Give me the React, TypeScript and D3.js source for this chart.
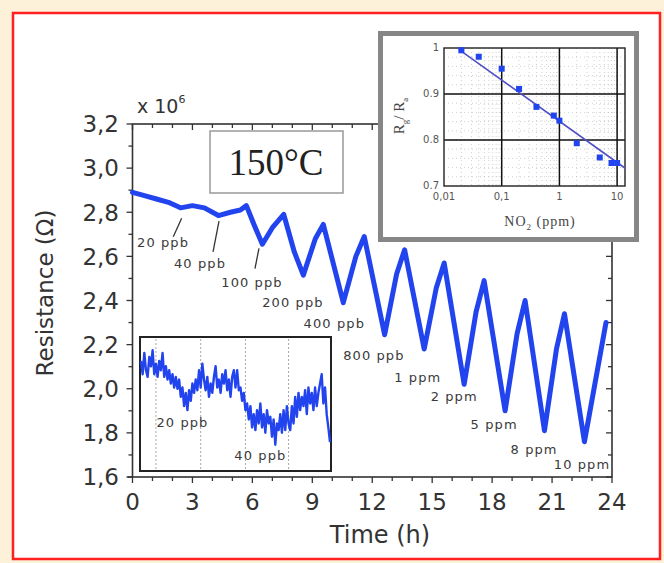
import React, { useRef, useEffect } from "react";
import * as d3 from "d3";

// main trace, vertices (time in h, resistance in 1e6 ohm)
const timeH = [0, 0.6, 1.2, 1.8, 2.4, 3.0, 3.6, 4.3, 4.9, 5.4, 5.7, 6.1, 6.5, 7.0, 7.57, 8.1, 8.55, 9.15, 9.55, 10.55, 11.18, 11.6, 12.62, 13.22, 13.62, 14.6, 15.2, 15.6, 16.6, 17.2, 17.6, 18.65, 19.25, 19.65, 20.62, 21.22, 21.62, 22.62, 23.7];
const resistance = [2.89, 2.875, 2.86, 2.845, 2.82, 2.83, 2.82, 2.785, 2.8, 2.81, 2.83, 2.74, 2.655, 2.73, 2.79, 2.62, 2.515, 2.68, 2.745, 2.39, 2.6, 2.69, 2.245, 2.52, 2.63, 2.18, 2.455, 2.57, 2.02, 2.35, 2.49, 1.9, 2.25, 2.4, 1.81, 2.18, 2.34, 1.76, 2.3];

const xTicks = [0, 3, 6, 9, 12, 15, 18, 21, 24];
const yTicks = [1.6, 1.8, 2.0, 2.2, 2.4, 2.6, 2.8, 3.0, 3.2];

// concentration labels (data coords of the label centre)
const gasLabels = ["20 ppb", "40 ppb", "100 ppb", "200 ppb", "400 ppb", "800 ppb", "1 ppm", "2 ppm", "5 ppm", "8 ppm", "10 ppm"];
const labelT = [1.53, 3.38, 5.98, 8.03, 10.1, 12.08, 14.28, 16.1, 18.1, 20.1, 22.5];
const labelR = [2.661, 2.57, 2.484, 2.389, 2.298, 2.153, 2.053, 1.963, 1.836, 1.727, 1.656];

// leader lines for the first three labels
const leadT0 = [2.04, 4.03, 6.13];
const leadR0 = [2.689, 2.62, 2.545];
const leadT1 = [2.46, 4.33, 6.33];
const leadR1 = [2.773, 2.76, 2.636];

// lower-left inset: zoom of the low-ppb steps (arbitrary units)
const insetSignal = [82, 72, 88, 75, 70, 85, 78, 90, 72, 80, 70, 82, 75, 88, 70, 78, 68, 75, 65, 72, 62, 70, 61, 68, 55, 62, 48, 58, 45, 60, 52, 65, 58, 68, 60, 75, 62, 80, 68, 60, 70, 55, 65, 58, 70, 78, 62, 68, 58, 72, 65, 75, 60, 68, 55, 70, 75, 62, 75, 60, 62, 52, 58, 45, 50, 38, 48, 32, 42, 30, 45, 35, 50, 32, 42, 28, 45, 35, 40, 25, 38, 19, 35, 30, 42, 28, 45, 30, 48, 35, 30, 48, 35, 55, 40, 58, 45, 55, 48, 60, 42, 62, 50, 58, 45, 62, 48, 58, 65, 72, 50, 62, 42, 32, 21];
const insetMarks = [9, 36, 63, 89];
const insetLabels = ["20 ppb", "40 ppb"];
const insetLabelIdx = [25, 72];
const insetLabelVal = [36, 11];

// upper-right inset: response vs NO2 concentration
const no2 = [0.02, 0.04, 0.1, 0.2, 0.4, 0.8, 1, 2, 5, 8, 10];
const ratio = [0.995, 0.981, 0.955, 0.911, 0.872, 0.853, 0.842, 0.793, 0.762, 0.75, 0.75];
const fitNo2 = [0.018, 14];
const fitRatio = [0.997, 0.738];
const insetXTicks = [0.01, 0.1, 1, 10];
const insetXLabels = ["0,01", "0,1", "1", "10"];
const insetYTicks = [0.7, 0.8, 0.9, 1];
const insetYLabels = ["0.7", "0.8", "0.9", "1"];

const W = 664;
const H = 563;
const SANS = "DejaVu Sans, Verdana, sans-serif";
const SERIF = "Liberation Serif, Times New Roman, serif";
const BLUE = "#2244ee";

export default function App() {
  const svgRef = useRef<SVGSVGElement>(null);

  useEffect(() => {
    const svg = d3.select(svgRef.current);
    svg.selectAll("*").remove();

    // page + red frame
    svg.append("rect").attr("width", W).attr("height", H).attr("fill", "#fdf2d9");
    svg.append("rect")
      .attr("x", 13).attr("y", 13).attr("width", 647).attr("height", 546)
      .attr("fill", "#fff").attr("stroke", "#ff2020").attr("stroke-width", 2.5);

    const x = d3.scaleLinear().domain([0, 24]).range([132.5, 612]);
    const y = d3.scaleLinear().domain([1.6, 3.2]).range([477, 124]);

    const g = svg.append("g");

    // ticks
    const minorX = d3.range(0, 25, 1);
    minorX.forEach((t) => {
      const big = t % 3 === 0;
      g.append("line").attr("x1", x(t)).attr("x2", x(t))
        .attr("y1", y(1.6)).attr("y2", y(1.6) + (big ? 6 : 4))
        .attr("stroke", "#333").attr("stroke-width", 1.3);
      g.append("line").attr("x1", x(t)).attr("x2", x(t))
        .attr("y1", y(3.2)).attr("y2", y(3.2) + (big ? 6 : 4))
        .attr("stroke", "#333").attr("stroke-width", 1.3);
    });
    const minorY = d3.range(16, 33, 1).map((d) => d / 10);
    minorY.forEach((r, i) => {
      const big = i % 2 === 0;
      g.append("line").attr("x1", x(0)).attr("x2", x(0) - (big ? 6 : 4))
        .attr("y1", y(r)).attr("y2", y(r))
        .attr("stroke", "#333").attr("stroke-width", 1.3);
      g.append("line").attr("x1", x(24)).attr("x2", x(24) - (big ? 6 : 4))
        .attr("y1", y(r)).attr("y2", y(r))
        .attr("stroke", "#333").attr("stroke-width", 1.3);
    });

    // frame
    g.append("rect")
      .attr("x", x(0)).attr("y", y(3.2))
      .attr("width", x(24) - x(0)).attr("height", y(1.6) - y(3.2))
      .attr("fill", "none").attr("stroke", "#333").attr("stroke-width", 1.6);
    g.append("line").attr("x1", x(0) - 5).attr("x2", x(0))
      .attr("y1", y(1.6)).attr("y2", y(1.6)).attr("stroke", "#333").attr("stroke-width", 1.6);

    // tick labels
    g.selectAll(".xl").data(xTicks).join("text")
      .attr("x", (d) => x(d)).attr("y", 510)
      .attr("text-anchor", "middle").attr("font-family", SANS).attr("font-size", 23)
      .attr("fill", "#333").text((d) => String(d));
    g.selectAll(".yl").data(yTicks).join("text")
      .attr("x", 119).attr("y", (d) => y(d)).attr("dy", "0.36em")
      .attr("text-anchor", "end").attr("font-family", SANS).attr("font-size", 23)
      .attr("fill", "#333").text((d) => d3.format(".1f")(d).replace(".", ","));

    // axis titles
    g.append("text").attr("x", 380).attr("y", 543)
      .attr("text-anchor", "middle").attr("font-family", SANS).attr("font-size", 24)
      .attr("fill", "#333").text("Time (h)");
    g.append("text")
      .attr("transform", "translate(45,293) rotate(-90)")
      .attr("text-anchor", "middle").attr("dominant-baseline", "central")
      .attr("font-family", SANS).attr("font-size", 23).attr("fill", "#333")
      .text("Resistance (Ω)");
    const mult = g.append("text").attr("x", 137).attr("y", 113)
      .attr("font-family", SANS).attr("font-size", 19).attr("fill", "#333");
    mult.append("tspan").text("x 10");
    mult.append("tspan").attr("font-size", 11).attr("dy", -10).text("6");

    // main trace
    const line = d3.line<number>()
      .x((_, i) => x(timeH[i]))
      .y((d) => y(d));
    g.append("path").attr("d", line(resistance))
      .attr("fill", "none").attr("stroke", BLUE).attr("stroke-width", 5)
      .attr("stroke-linejoin", "round").attr("stroke-linecap", "round");

    // concentration labels
    g.selectAll(".gl").data(gasLabels).join("text")
      .attr("x", (_, i) => x(labelT[i])).attr("y", (_, i) => y(labelR[i]))
      .attr("dy", "0.35em").attr("text-anchor", "middle")
      .attr("font-family", SANS).attr("font-size", 13).attr("letter-spacing", 1.1)
      .attr("fill", "#3a3a3a").text((d) => d);
    leadT0.forEach((t, i) => {
      g.append("line")
        .attr("x1", x(t)).attr("y1", y(leadR0[i]))
        .attr("x2", x(leadT1[i])).attr("y2", y(leadR1[i]))
        .attr("stroke", "#333").attr("stroke-width", 1.3);
    });

    // 150°C box
    g.append("rect").attr("x", 210).attr("y", 131).attr("width", 133).attr("height", 62)
      .attr("fill", "#fff").attr("stroke", "#999").attr("stroke-width", 1.5);
    g.append("text").attr("x", 276).attr("y", 175).attr("text-anchor", "middle")
      .attr("font-family", SERIF).attr("font-size", 37).attr("fill", "#222")
      .text("150°C");

    // lower-left inset
    const bx = d3.scaleLinear().domain([0, insetSignal.length - 1]).range([141, 330]);
    const by = d3.scaleLinear().domain([0, 100]).range([470, 337]);
    const low = svg.append("g");
    low.append("rect").attr("x", 140).attr("y", 337).attr("width", 191).attr("height", 134)
      .attr("fill", "#fff").attr("stroke", "#222").attr("stroke-width", 2);
    insetMarks.forEach((m) => {
      low.append("line").attr("x1", bx(m)).attr("x2", bx(m))
        .attr("y1", 339).attr("y2", 469)
        .attr("stroke", "#aaa").attr("stroke-width", 1).attr("stroke-dasharray", "2,2");
    });
    const lowLine = d3.line<number>().x((_, i) => bx(i)).y((d) => by(d));
    low.append("path").attr("d", lowLine(insetSignal))
      .attr("fill", "none").attr("stroke", BLUE).attr("stroke-width", 2.4)
      .attr("stroke-linejoin", "round");
    low.selectAll(".il").data(insetLabels).join("text")
      .attr("x", (_, i) => bx(insetLabelIdx[i])).attr("y", (_, i) => by(insetLabelVal[i]))
      .attr("dy", "0.35em").attr("text-anchor", "middle")
      .attr("font-family", SANS).attr("font-size", 13).attr("letter-spacing", 1.1)
      .attr("fill", "#3a3a3a").text((d) => d);

    // upper-right inset
    const ix = d3.scaleLog().domain([0.01, 13.7]).range([444, 625]);
    const iy = d3.scaleLinear().domain([0.7, 1]).range([186, 48]);
    const up = svg.append("g");
    up.append("rect").attr("x", 380.5).attr("y", 33.5).attr("width", 256).attr("height", 206)
      .attr("fill", "#fff").attr("stroke", "#868686").attr("stroke-width", 5);
    ix.ticks().filter((d) => d > 0.01 && d < 13.7).forEach((d) => {
      up.append("line").attr("x1", ix(d)).attr("x2", ix(d)).attr("y1", iy(1)).attr("y2", iy(0.7))
        .attr("stroke", "#c4c4c4").attr("stroke-width", 0.8).attr("stroke-dasharray", "1,3");
    });
    iy.ticks(15).forEach((d) => {
      up.append("line").attr("x1", ix(0.01)).attr("x2", ix(13.7)).attr("y1", iy(d)).attr("y2", iy(d))
        .attr("stroke", "#c4c4c4").attr("stroke-width", 0.8).attr("stroke-dasharray", "1,3");
    });
    [0.1, 1, 10].forEach((d) => {
      up.append("line").attr("x1", ix(d)).attr("x2", ix(d)).attr("y1", iy(1)).attr("y2", iy(0.7))
        .attr("stroke", "#111").attr("stroke-width", 1.5);
    });
    [0.8, 0.9].forEach((d) => {
      up.append("line").attr("x1", ix(0.01)).attr("x2", ix(13.7)).attr("y1", iy(d)).attr("y2", iy(d))
        .attr("stroke", "#111").attr("stroke-width", 1.5);
    });
    up.append("rect").attr("x", ix(0.01)).attr("y", iy(1))
      .attr("width", ix(13.7) - ix(0.01)).attr("height", iy(0.7) - iy(1))
      .attr("fill", "none").attr("stroke", "#222").attr("stroke-width", 1.4);

    const fit = d3.line<number>().x((d) => ix(d)).y((_, i) => iy(fitRatio[i]));
    up.append("path").attr("d", fit(fitNo2))
      .attr("stroke", "#5050c8").attr("stroke-width", 1.6).attr("fill", "none");
    up.selectAll(".pt").data(no2).join("rect")
      .attr("x", (d) => ix(d) - 3).attr("y", (_, i) => iy(ratio[i]) - 3)
      .attr("width", 6).attr("height", 6).attr("fill", BLUE);

    up.selectAll(".ixl").data(insetXTicks).join("text")
      .attr("x", (d) => ix(d)).attr("y", 200).attr("text-anchor", "middle")
      .attr("font-family", SANS).attr("font-size", 10).attr("fill", "#555")
      .text((_, i) => insetXLabels[i]);
    up.selectAll(".iyl").data(insetYTicks).join("text")
      .attr("x", 439).attr("y", (d) => iy(d)).attr("dy", "0.3em").attr("text-anchor", "end")
      .attr("font-family", SANS).attr("font-size", 10).attr("fill", "#555")
      .text((_, i) => insetYLabels[i]);

    const xt = up.append("text").attr("x", 540).attr("y", 226).attr("text-anchor", "middle")
      .attr("font-family", SERIF).attr("font-size", 14).attr("fill", "#444")
      .attr("letter-spacing", 1);
    xt.append("tspan").text("NO");
    xt.append("tspan").attr("font-size", 9).attr("dy", 4).text("2");
    xt.append("tspan").attr("dy", -4).text(" (ppm)");

    const yt = up.append("text").attr("transform", "translate(404,116) rotate(-90)")
      .attr("text-anchor", "middle").attr("font-family", SERIF).attr("font-size", 15)
      .attr("fill", "#444");
    yt.append("tspan").text("R");
    yt.append("tspan").attr("font-size", 9).attr("dy", 4).text("g");
    yt.append("tspan").attr("dy", -4).text("/ R");
    yt.append("tspan").attr("font-size", 9).attr("dy", 4).text("a");
  }, []);

  return (
    <svg
      ref={svgRef}
      width={W}
      height={H}
      style={{ position: "absolute", left: 0, top: 0 }}
    />
  );
}
